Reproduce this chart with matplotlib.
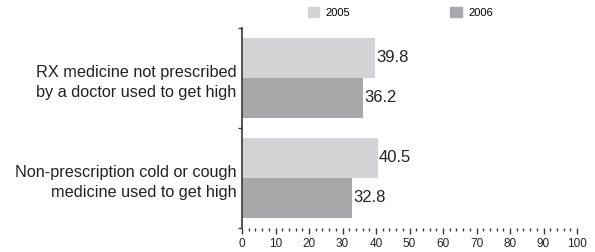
import numpy as np
import matplotlib.pyplot as plt
from matplotlib.patches import Patch
from matplotlib.ticker import MultipleLocator

plt.rcParams['font.family'] = ['Liberation Sans', 'DejaVu Sans']

categories = ["RX medicine not prescribed\nby a doctor used to get high",
              "Non-prescription cold or cough\nmedicine used to get high"]
series_names = ["2005", "2006"]
values_2005 = [39.8, 40.5]
values_2006 = [36.2, 32.8]

color_2005 = '#d3d3d5'
color_2006 = '#a8a8ab'
dark = '#3a3a3a'

fig = plt.figure(figsize=(5.95, 2.52), dpi=100)
ax = fig.add_axes([242 / 595, 1 - 228 / 252, 335 / 595, 200 / 252])

pos = np.arange(len(categories)) + 0.5
h = 0.4
ax.barh(pos - 0.2, values_2005, height=h, color=color_2005, label=series_names[0])
ax.barh(pos + 0.2, values_2006, height=h, color=color_2006, label=series_names[1])

for y, v in zip(pos - 0.2, values_2005):
    ax.text(v + 0.3, y, f"{v:.1f}", va='center', ha='left', fontsize=12, color='#222222')
for y, v in zip(pos + 0.2, values_2006):
    ax.text(v + 0.3, y, f"{v:.1f}", va='center', ha='left', fontsize=12, color='#222222')

ax.set_xlim(0, 100)
ax.set_ylim(2, 0)

# y axis: ticks between categories, labels at centers
ax.set_yticks([0, 1, 2])
ax.set_yticklabels([])
ax.set_yticks(pos, minor=True)
ax.set_yticklabels(categories, minor=True, fontsize=11.7, color='#222222',
                   linespacing=1.45)
ax.tick_params(axis='y', which='major', direction='out', length=3, width=1, color=dark)
ax.tick_params(axis='y', which='minor', length=0, pad=4)

ax.xaxis.set_major_locator(MultipleLocator(10))
ax.xaxis.set_minor_locator(MultipleLocator(2))
ax.tick_params(axis='x', which='major', direction='out', length=4, width=1,
               color=dark, labelsize=8.5, pad=3, labelcolor='#222222')
ax.tick_params(axis='x', which='minor', direction='out', length=2, width=1, color=dark)

for s in ['top', 'right', 'bottom']:
    ax.spines[s].set_visible(False)
ax.spines['left'].set_color(dark)
ax.spines['left'].set_linewidth(1.2)

handles = [Patch(color=color_2005), Patch(color=color_2006)]
fig.legend(handles, series_names, loc='upper left', ncol=2, frameon=False,
           bbox_to_anchor=(308 / 595, 1 - 7 / 252), fontsize=8,
           handlelength=1.0, handleheight=1.0, handletextpad=0.6,
           columnspacing=9.0, borderpad=0, borderaxespad=0)

fig.savefig("out.png", dpi=100)
